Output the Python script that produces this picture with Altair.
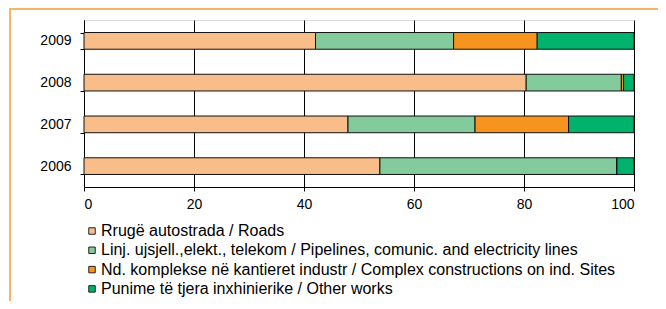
import altair as alt
import pandas as pd

years = ["2006", "2007", "2008", "2009"]
categories = [
    "Rrugë autostrada / Roads",
    "Linj. ujsjell.,elekt., telekom / Pipelines, comunic. and  electricity lines",
    "Nd. komplekse në kantieret industr / Complex constructions on ind. Sites",
    "Punime të tjera inxhinierike / Other works",
]
colors = ["#F9BD89", "#83CB9C", "#F7931F", "#00B26B"]
roads = [53.8, 48.0, 80.4, 42.1]
pipelines = [43.1, 23.1, 17.3, 25.1]
complex_sites = [0.0, 17.0, 0.4, 15.2]
other = [3.1, 11.9, 1.9, 17.6]

series = [roads, pipelines, complex_sites, other]
rows = []
for ci, (cat, vals) in enumerate(zip(categories, series)):
    for y, v in zip(years, vals):
        rows.append({"year": y, "category": cat, "value": v, "order": ci})
df = pd.DataFrame(rows)

FONT = "Liberation Sans"

bars = alt.Chart(df).mark_bar(stroke="#111111", strokeWidth=1).encode(
    y=alt.Y("year:N", sort=["2009", "2008", "2007", "2006"],
            scale=alt.Scale(paddingInner=0.6, paddingOuter=0.3),
            axis=alt.Axis(title=None, tickBand="extent", tickSize=4, labelPadding=9,
                          domainColor="#000000", tickColor="#000000", labelFontSize=14,
                          labelFont=FONT, labelColor="#000000", grid=False)),
    x=alt.X("value:Q", stack="zero",
            scale=alt.Scale(domain=[0, 100], nice=False),
            axis=alt.Axis(title=None, values=[0, 20, 40, 60, 80, 100], tickSize=4,
                          labelPadding=6, domainColor="#000000", tickColor="#000000",
                          gridColor="#000000", gridOpacity=1, labelFontSize=14,
                          labelFont=FONT, labelColor="#000000")),
    color=alt.Color("category:N", sort=categories,
                    scale=alt.Scale(domain=categories, range=colors),
                    legend=alt.Legend(title=None, orient="none", legendX=0, legendY=203,
                                      symbolType="square", symbolSize=42,
                                      symbolStrokeColor="#222222", symbolStrokeWidth=1,
                                      labelFontSize=16, labelFont=FONT, labelColor="#000000",
                                      rowPadding=3.3, labelOffset=1, padding=0,
                                      labelLimit=700)),
    order=alt.Order("order:Q"),
)

frame = alt.Chart(alt.Data(values=[{}])).mark_rect(
    fill=None, stroke="#F8B466", strokeWidth=2, clip=False
).encode(
    x=alt.value(-74), x2=alt.value(620), y=alt.value(-11), y2=alt.value(320)
)

chart = alt.layer(frame, bars).properties(
    width=550, height=167,
    autosize=alt.AutoSizeParams(type="none"),
    padding={"left": 76, "top": 12, "right": 24, "bottom": 114},
).configure_view(stroke="#555555", strokeWidth=1).configure(font=FONT)

chart.save("out.html", embed_options={"renderer": "svg", "actions": False})
